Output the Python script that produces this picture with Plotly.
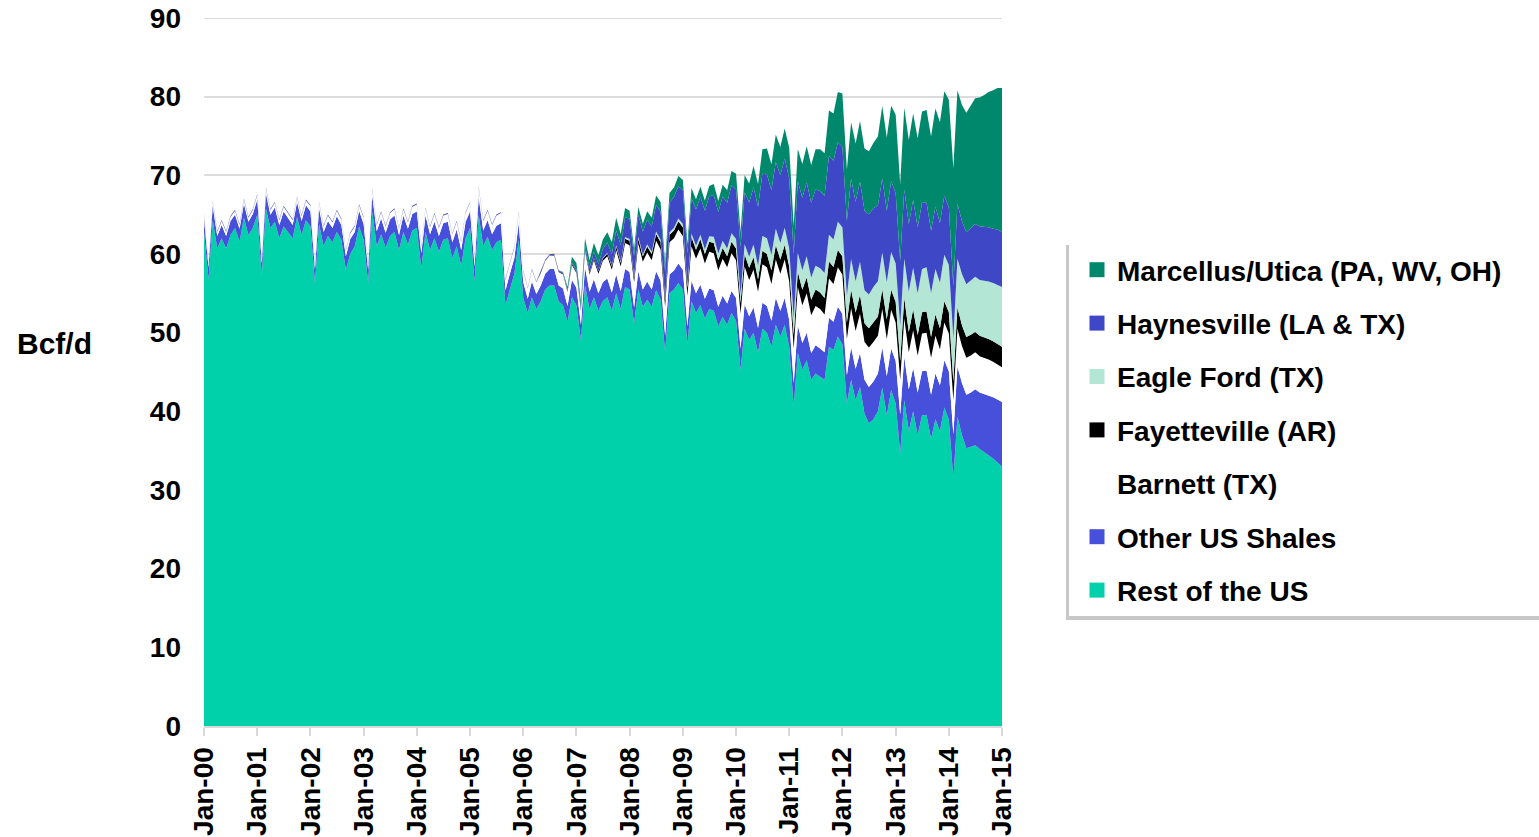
import pandas as pd
import plotly.graph_objects as go

# Monthly categories Jan-2000 .. Jan-2015
months = pd.date_range("2000-01-01", "2015-01-01", freq="MS")

rest_of_us = [
    62.8, 56.8, 64.3, 60.7, 62.0, 60.7, 62.4, 63.3, 61.6, 64.6, 62.4, 63.3,
    65.0, 57.2, 65.8, 63.3, 64.1, 62.0, 63.5, 62.8, 62.0, 64.7, 62.4, 64.3,
    63.5, 56.3, 63.8, 61.0, 62.3, 61.5, 62.8, 61.8, 58.0, 60.0, 61.0, 63.5,
    61.8, 56.3, 65.4, 61.0, 62.5, 60.8, 62.3, 62.8, 60.5, 62.8, 61.2, 63.0,
    63.3, 58.2, 62.8, 60.5, 62.0, 60.3, 61.8, 62.0, 59.5, 61.0, 58.5, 62.0,
    63.3, 56.5, 65.0, 61.0, 62.2, 60.5, 61.5, 61.8, 53.5, 55.5, 57.5, 61.8,
    54.4, 52.5, 54.5, 53.0, 54.0, 55.5, 56.0, 56.0, 54.0, 53.5, 51.4, 54.5,
    53.5, 49.0, 56.0, 53.0, 54.5, 52.8, 54.0, 54.5, 52.8, 55.0, 53.0, 55.8,
    55.5, 51.2, 55.5, 53.3, 54.2, 53.3, 55.4, 54.2, 47.5, 55.0, 55.5, 56.3,
    55.5, 48.5, 54.0, 52.5, 53.5, 51.8, 53.0, 52.8, 50.8, 52.0, 51.0, 52.5,
    51.5, 45.3, 50.5, 49.1, 50.0, 47.5, 50.5, 50.0, 48.2, 51.0, 49.5, 51.0,
    48.2, 40.6, 47.4, 45.3, 46.5, 44.0, 44.8, 44.4, 44.0, 48.2, 47.8, 49.5,
    48.5, 41.0, 44.0, 41.4, 43.1, 39.7, 38.5, 39.0, 40.0, 43.0, 39.5, 42.7,
    41.0, 34.7, 41.4, 37.5, 40.0, 37.0, 39.5, 39.5, 36.5, 39.0, 37.5, 40.5,
    38.9, 31.5, 39.3, 37.0, 35.3, 35.5, 35.7, 35.2, 34.8, 34.4, 34.0, 33.5,
    33.0,
]

other_us_shales = [
    1.7, 1.5, 1.8, 1.6, 1.7, 1.6, 1.8, 1.7, 1.6, 1.8, 1.7, 1.8,
    1.9, 1.6, 1.9, 1.7, 1.8, 1.7, 1.9, 1.8, 1.7, 1.9, 1.8, 1.9,
    1.9, 1.7, 2.0, 1.8, 1.9, 1.8, 2.0, 1.9, 1.7, 1.9, 1.8, 2.0,
    2.0, 1.7, 2.0, 1.9, 2.0, 1.9, 2.1, 2.1, 1.9, 2.1, 2.0, 2.1,
    2.1, 1.9, 2.1, 2.0, 2.1, 2.0, 2.1, 2.1, 2.0, 2.1, 2.0, 2.1,
    2.1, 1.9, 2.2, 2.0, 2.1, 2.0, 2.1, 2.1, 1.9, 2.0, 2.0, 2.1,
    2.0, 1.8, 2.0, 1.9, 2.0, 2.0, 2.1, 2.1, 2.0, 2.1, 2.0, 2.2,
    2.2, 2.0, 2.3, 2.2, 2.3, 2.2, 2.4, 2.4, 2.3, 2.4, 2.3, 2.3,
    2.2, 2.0, 2.3, 2.2, 2.3, 2.2, 2.4, 2.4, 2.1, 2.4, 2.4, 2.5,
    2.5, 2.3, 2.6, 2.5, 2.6, 2.5, 2.6, 2.6, 2.5, 2.7, 2.7, 2.8,
    2.9, 2.7, 3.1, 3.0, 3.2, 3.1, 3.3, 3.4, 3.3, 3.4, 3.3, 3.4,
    3.4, 3.0, 3.5, 3.4, 3.5, 3.4, 3.6, 3.6, 3.5, 3.7, 3.6, 3.8,
    3.9, 3.6, 4.1, 4.0, 4.3, 4.3, 4.6, 4.8, 4.8, 5.1, 5.0, 5.3,
    5.4, 4.9, 5.5, 5.3, 5.5, 5.4, 5.6, 5.7, 5.6, 5.8, 5.8, 6.0,
    6.2, 5.6, 6.4, 6.6, 6.8, 6.9, 7.1, 7.2, 7.4, 7.6, 7.8, 8.0,
    8.2,
]

barnett = [
    0.5, 0.45, 0.5, 0.5, 0.5, 0.5, 0.5, 0.5, 0.5, 0.5, 0.5, 0.5,
    0.6, 0.55, 0.6, 0.6, 0.6, 0.6, 0.6, 0.6, 0.6, 0.6, 0.6, 0.6,
    0.7, 0.65, 0.7, 0.7, 0.7, 0.7, 0.7, 0.7, 0.7, 0.7, 0.7, 0.7,
    0.8, 0.7, 0.8, 0.8, 0.8, 0.8, 0.8, 0.8, 0.8, 0.8, 0.8, 0.9,
    0.9, 0.85, 0.9, 0.9, 1.0, 1.0, 1.0, 1.0, 1.0, 1.0, 1.0, 1.1,
    1.1, 1.0, 1.2, 1.2, 1.2, 1.2, 1.3, 1.3, 1.3, 1.3, 1.3, 1.4,
    1.4, 1.3, 1.5, 1.5, 1.6, 1.6, 1.7, 1.7, 1.7, 1.8, 1.8, 1.9,
    1.9, 1.8, 2.1, 2.2, 2.4, 2.5, 2.7, 2.8, 2.9, 3.1, 3.1, 3.3,
    3.4, 3.2, 3.5, 3.5, 3.7, 3.7, 3.9, 4.0, 3.7, 4.1, 4.1, 4.3,
    4.3, 3.9, 4.4, 4.4, 4.6, 4.5, 4.7, 4.7, 4.6, 4.7, 4.6, 4.8,
    4.8, 4.4, 4.8, 4.6, 4.8, 4.6, 4.9, 4.9, 4.7, 4.9, 4.7, 4.9,
    4.9, 4.4, 4.9, 4.8, 5.0, 4.8, 5.0, 5.0, 4.8, 5.0, 4.8, 5.0,
    5.0, 4.6, 5.0, 4.8, 5.0, 4.8, 5.0, 5.0, 4.8, 4.9, 4.7, 4.9,
    4.9, 4.4, 4.9, 4.7, 4.8, 4.7, 4.8, 4.8, 4.7, 4.8, 4.6, 4.8,
    4.8, 4.3, 4.8, 4.7, 4.7, 4.7, 4.7, 4.6, 4.6, 4.6, 4.5, 4.5,
    4.4,
]

fayetteville = [
    0, 0, 0, 0, 0, 0, 0, 0, 0, 0, 0, 0,
    0, 0, 0, 0, 0, 0, 0, 0, 0, 0, 0, 0,
    0, 0, 0, 0, 0, 0, 0, 0, 0, 0, 0, 0,
    0, 0, 0, 0, 0, 0, 0, 0, 0, 0, 0, 0,
    0, 0, 0, 0, 0, 0, 0, 0, 0, 0, 0, 0,
    0, 0, 0, 0, 0, 0, 0, 0, 0, 0, 0, 0,
    0, 0, 0, 0, 0.05, 0.05, 0.05, 0.1, 0.1, 0.1, 0.1, 0.15,
    0.15, 0.15, 0.2, 0.2, 0.25, 0.3, 0.3, 0.35, 0.4, 0.45, 0.5, 0.55,
    0.6, 0.6, 0.65, 0.7, 0.75, 0.8, 0.85, 0.9, 0.85, 0.95, 1.0, 1.05,
    1.1, 1.0, 1.15, 1.15, 1.2, 1.2, 1.25, 1.3, 1.3, 1.35, 1.4, 1.45,
    1.5, 1.4, 1.55, 1.55, 1.6, 1.6, 1.7, 1.7, 1.7, 1.8, 1.8, 1.85,
    1.9, 1.7, 1.95, 1.95, 2.0, 2.0, 2.1, 2.1, 2.1, 2.15, 2.15, 2.2,
    2.3, 2.1, 2.35, 2.35, 2.4, 2.4, 2.45, 2.5, 2.45, 2.5, 2.5, 2.55,
    2.6, 2.4, 2.6, 2.6, 2.65, 2.6, 2.7, 2.7, 2.65, 2.7, 2.65, 2.7,
    2.7, 2.4, 2.7, 2.65, 2.65, 2.65, 2.6, 2.6, 2.6, 2.6, 2.6, 2.6,
    2.6,
]

eagle_ford = [
    0, 0, 0, 0, 0, 0, 0, 0, 0, 0, 0, 0,
    0, 0, 0, 0, 0, 0, 0, 0, 0, 0, 0, 0,
    0, 0, 0, 0, 0, 0, 0, 0, 0, 0, 0, 0,
    0, 0, 0, 0, 0, 0, 0, 0, 0, 0, 0, 0,
    0, 0, 0, 0, 0, 0, 0, 0, 0, 0, 0, 0,
    0, 0, 0, 0, 0, 0, 0, 0, 0, 0, 0, 0,
    0, 0, 0, 0, 0, 0, 0, 0, 0, 0, 0, 0,
    0, 0, 0, 0, 0.05, 0.05, 0.1, 0.1, 0.1, 0.15, 0.15, 0.2,
    0.2, 0.2, 0.25, 0.25, 0.3, 0.3, 0.3, 0.3, 0.25, 0.3, 0.35, 0.35,
    0.4, 0.35, 0.45, 0.5, 0.55, 0.6, 0.7, 0.8, 0.85, 0.95, 1.0, 1.1,
    1.2, 1.1, 1.3, 1.4, 1.6, 1.7, 1.9, 2.0, 2.0, 2.1, 2.1, 2.2,
    2.3, 2.1, 2.4, 2.5, 2.7, 2.8, 3.0, 3.1, 3.2, 3.4, 3.5, 3.6,
    3.7, 3.4, 3.9, 4.0, 4.2, 4.2, 4.3, 4.5, 4.5, 4.7, 4.7, 4.8,
    4.9, 4.5, 5.0, 5.1, 5.3, 5.3, 5.5, 5.6, 5.6, 5.8, 5.8, 5.9,
    6.0, 5.5, 6.2, 6.5, 6.7, 6.9, 7.0, 7.1, 7.2, 7.3, 7.4, 7.5,
    7.6,
]

haynesville = [
    0.12, 0.12, 0.12, 0.12, 0.12, 0.12, 0.12, 0.12, 0.12, 0.12, 0.12, 0.12,
    0.12, 0.12, 0.12, 0.12, 0.12, 0.12, 0.12, 0.12, 0.12, 0.12, 0.12, 0.12,
    0.12, 0.12, 0.12, 0.12, 0.12, 0.12, 0.12, 0.12, 0.12, 0.12, 0.12, 0.12,
    0.12, 0.12, 0.12, 0.12, 0.12, 0.12, 0.12, 0.12, 0.12, 0.12, 0.12, 0.12,
    0.12, 0.12, 0.12, 0.12, 0.12, 0.12, 0.12, 0.12, 0.12, 0.12, 0.12, 0.12,
    0.12, 0.12, 0.12, 0.12, 0.12, 0.12, 0.12, 0.12, 0.12, 0.12, 0.12, 0.12,
    0.12, 0.12, 0.12, 0.12, 0.12, 0.12, 0.12, 0.12, 0.12, 0.12, 0.15, 0.2,
    0.3, 0.3, 0.5, 0.6, 0.8, 0.9, 1.1, 1.3, 1.5, 1.9, 2.1, 2.5,
    2.6, 2.5, 2.8, 2.9, 3.1, 3.2, 3.4, 3.6, 3.3, 3.8, 3.9, 4.1,
    4.3, 4.0, 4.5, 4.6, 4.8, 4.9, 5.1, 5.3, 5.3, 5.6, 5.8, 6.1,
    6.3, 6.0, 6.6, 6.9, 7.3, 7.5, 7.9, 8.1, 8.2, 8.5, 8.6, 8.8,
    8.9, 8.2, 9.1, 9.2, 9.4, 9.5, 9.7, 9.8, 9.8, 10.0, 10.0, 10.1,
    10.2, 9.5, 10.2, 10.1, 10.2, 10.1, 10.2, 10.0, 9.6, 9.4, 9.1, 9.0,
    8.9, 8.2, 8.8, 8.6, 8.6, 8.4, 8.4, 8.2, 7.9, 7.9, 7.6, 7.5,
    7.3, 6.6, 7.0, 6.7, 6.6, 6.6, 6.7, 6.8, 6.8, 6.9, 6.9, 7.0,
    7.0,
]

marcellus_utica = [
    0, 0, 0, 0, 0, 0, 0, 0, 0, 0, 0, 0,
    0, 0, 0, 0, 0, 0, 0, 0, 0, 0, 0, 0,
    0, 0, 0, 0, 0, 0, 0, 0, 0, 0, 0, 0,
    0, 0, 0, 0, 0, 0, 0, 0, 0, 0, 0, 0,
    0, 0, 0, 0, 0, 0, 0, 0, 0, 0, 0, 0,
    0, 0, 0, 0, 0, 0, 0, 0, 0, 0, 0, 0,
    0, 0, 0, 0, 0, 0, 0, 0, 0, 0.1, 0.4, 0.7,
    0.8, 0.7, 0.9, 1.0, 1.1, 1.1, 1.2, 1.3, 1.5, 1.6, 1.4, 1.2,
    1.0, 0.9, 1.0, 1.0, 1.1, 1.1, 1.2, 1.2, 1.1, 1.2, 1.2, 1.3,
    1.3, 1.2, 1.3, 1.3, 1.3, 1.3, 1.3, 1.4, 1.4, 1.5, 1.6, 1.8,
    2.0, 1.9, 2.2, 2.4, 2.7, 2.9, 3.1, 3.3, 3.3, 3.5, 3.6, 3.8,
    3.9, 3.6, 4.1, 4.3, 4.6, 4.8, 5.1, 5.3, 5.4, 5.8, 6.0, 6.4,
    6.8, 6.5, 7.2, 7.4, 7.7, 7.9, 8.0, 8.3, 8.8, 9.2, 9.3, 9.6,
    10.0, 9.8, 10.4, 10.7, 11.0, 11.3, 11.6, 11.8, 12.0, 12.5, 12.8, 13.3,
    13.7, 15.0, 14.4, 14.8, 15.2, 15.6, 16.0, 16.4, 16.8, 17.2, 17.6, 18.0,
    18.3,
]

# stacking order bottom -> top
stack = [
    ("Rest of the US", rest_of_us, "#00D1AA"),
    ("Other US Shales", other_us_shales, "#4650DA"),
    ("Barnett (TX)", barnett, "#FFFFFF"),
    ("Fayetteville (AR)", fayetteville, "#000000"),
    ("Eagle Ford (TX)", eagle_ford, "#B3E6D4"),
    ("Haynesville (LA & TX)", haynesville, "#3E47C6"),
    ("Marcellus/Utica (PA, WV, OH)", marcellus_utica, "#00886C"),
]
legend_order = [
    "Marcellus/Utica (PA, WV, OH)",
    "Haynesville (LA & TX)",
    "Eagle Ford (TX)",
    "Fayetteville (AR)",
    "Barnett (TX)",
    "Other US Shales",
    "Rest of the US",
]
colors = {n: c for n, _, c in stack}

fig = go.Figure()
for name, vals, col in stack:
    fig.add_trace(go.Scatter(
        x=months, y=vals, name=name, mode="lines", stackgroup="one",
        line=dict(width=0, color=col), fillcolor=col, showlegend=False,
        hoverinfo="skip",
    ))

for name in legend_order:
    fig.add_trace(go.Scatter(
        x=[None], y=[None], mode="markers", name=name, legendgroup=name,
        marker=dict(symbol="square", size=15, color=colors[name]),
        showlegend=True,
    ))

FONT = "Liberation Sans, Arial, sans-serif"

def px_x(px):
    return (px - 204) / 798.0

def px_y(py):
    return (726 - py) / 708.0

fig.update_layout(
    width=1539, height=837,
    margin=dict(l=204, r=537, t=18, b=111, autoexpand=False),
    paper_bgcolor="white", plot_bgcolor="white",
    font=dict(family=FONT, size=28, color="black"),
    showlegend=True,
    legend=dict(
        x=px_x(1077), y=px_y(245), xanchor="left", yanchor="top",
        bgcolor="rgba(0,0,0,0)", borderwidth=0,
        font=dict(family=FONT, size=28, color="black", weight="bold"),
        tracegroupgap=14,
    ),
    xaxis=dict(
        type="date", range=["2000-01-01", "2015-01-01"],
        tick0="2000-01-01", dtick="M12", tickformat="%b-%y",
        tickangle=-90, showgrid=False, automargin=False,
        showline=True, linecolor="#d9d9d9", linewidth=2,
        ticks="outside", ticklen=8, tickwidth=2, tickcolor="#d9d9d9",
        tickfont=dict(family=FONT, size=28, color="black", weight="bold"),
        fixedrange=True,
    ),
    yaxis=dict(
        range=[0, 90], tick0=0, dtick=10, automargin=False,
        showgrid=True, gridcolor="#dcdcdc", gridwidth=2,
        zeroline=False, showline=False, ticks="",
        ticklabelstandoff=22,
        tickfont=dict(family=FONT, size=28, color="black", weight="bold"),
        fixedrange=True,
    ),
    annotations=[dict(
        text="Bcf/d", x=px_x(54), y=px_y(343), xref="paper", yref="paper",
        showarrow=False, xanchor="center", yanchor="middle",
        font=dict(family=FONT, size=30, color="black", weight="bold"),
    )],
    shapes=[
        dict(type="line", xref="paper", yref="y", x0=0, x1=1, y0=90, y1=90,
             line=dict(color="#dcdcdc", width=2), layer="below"),
        dict(type="rect", xref="paper", yref="paper",
             x0=px_x(1066), x1=px_x(1560), y0=px_y(620), y1=px_y(245),
             fillcolor="#c8c8c8", line=dict(width=0), layer="below"),
        dict(type="rect", xref="paper", yref="paper",
             x0=px_x(1069), x1=px_x(1560), y0=px_y(616), y1=px_y(241),
             fillcolor="white", line=dict(width=0), layer="below"),
    ],
)

fig.write_html(
    "out.html",
    config={"displayModeBar": False},
    post_script="document.body.style.margin='0px';document.body.style.overflow='hidden';",
)
